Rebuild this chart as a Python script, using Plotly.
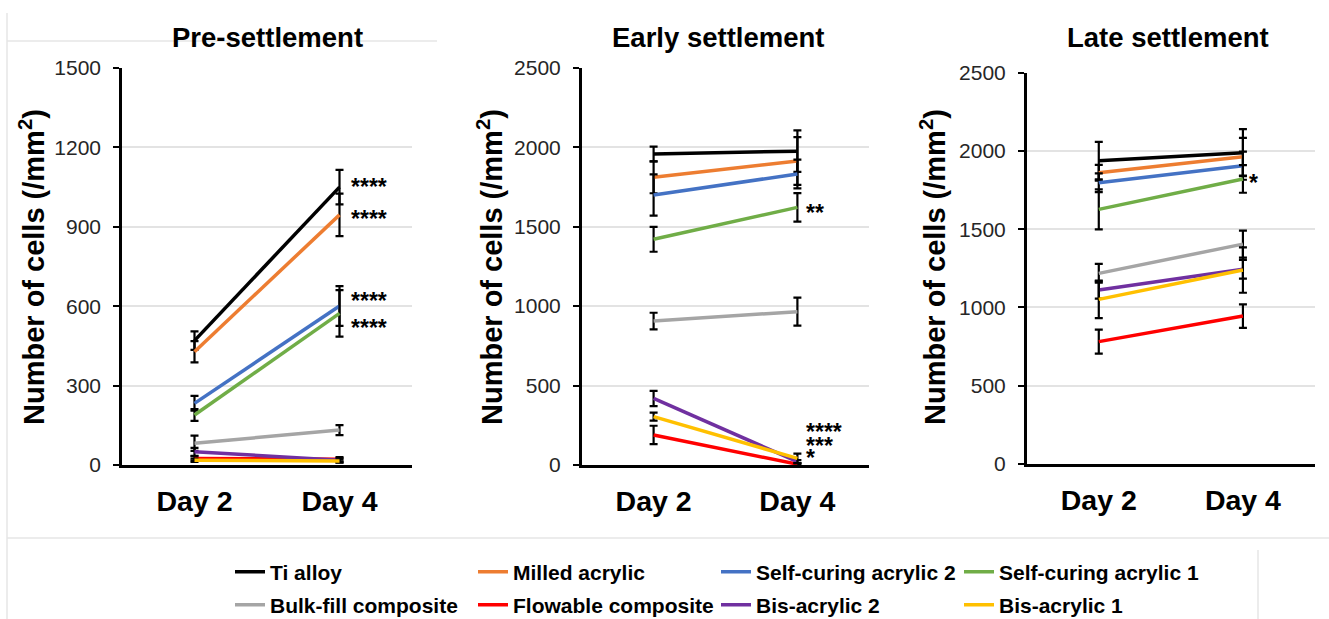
import plotly.graph_objects as go

# ---------------- data ----------------
days = ["Day 2", "Day 4"]
materials = ["Ti alloy", "Milled acrylic", "Self-curing acrylic 2", "Self-curing acrylic 1",
             "Bulk-fill composite", "Flowable composite", "Bis-acrylic 2", "Bis-acrylic 1"]
colors = ["#000000", "#ED7D31", "#4472C4", "#70AD47",
          "#A5A5A5", "#FF0000", "#7030A0", "#FFC000"]

panel_titles = ["Pre-settlement", "Early settlement", "Late settlement"]

pre_mean = [[470, 1050], [428, 945], [233, 601], [189, 573],
            [82, 132], [25, 22], [50, 18], [18, 15]]
pre_err = [[35, 65], [40, 80], [28, 75], [22, 88],
           [29, 19], [8, 8], [15, 8], [6, 6]]

early_mean = [[1957, 1975], [1810, 1913], [1699, 1831], [1420, 1621],
              [906, 965], [189, 5], [419, 21], [304, 42]]
early_err = [[46, 130], [100, 150], [130, 90], [78, 90],
             [52, 88], [58, 5], [48, 10], [25, 30]]

late_mean = [[1938, 1989], [1861, 1963], [1797, 1906], [1627, 1821],
             [1218, 1405], [782, 945], [1112, 1244], [1052, 1239]]
late_err = [[120, 150], [50, 120], [60, 90], [128, 88],
            [60, 86], [77, 75], [55, 60], [120, 145]]

y_max = [1500, 2500, 2500]
y_dtick = [300, 500, 500]

sig_pre_text = ["****", "****", "****", "****"]
sig_pre_y = [1068, 948, 638, 535]
sig_early_text = ["**", "****", "***", "*"]
sig_early_y = [1615, 237, 153, 74]
sig_late_text = ["*"]
sig_late_y = [1825]

# ---------------- layout geometry ----------------
W, H = 1329, 619
x_domains = [[122 / W, 412 / W], [581.7 / W, 869.3 / W], [1026.7 / W, 1315 / W]]
y_domains = [[1 - 465 / H, 1 - 68 / H], [1 - 465 / H, 1 - 67.7 / H], [1 - 464 / H, 1 - 72.7 / H]]
title_x = [267 / W, 718 / W, 1168 / W]
ytitle_x = [32 / W, 490 / W, 933 / W]
sig_xshift = [9, 7, 4]

means = [pre_mean, early_mean, late_mean]
errs = [pre_err, early_err, late_err]
sig_texts = [sig_pre_text, sig_early_text, sig_late_text]
sig_ys = [sig_pre_y, sig_early_y, sig_late_y]

FONT = "Liberation Sans, Arial"

fig = go.Figure()

for p in range(3):
    xa = "x" if p == 0 else f"x{p + 1}"
    ya = "y" if p == 0 else f"y{p + 1}"
    for i, name in enumerate(materials):
        fig.add_trace(go.Scatter(
            x=days, y=means[p][i], mode="lines", name=name,
            line=dict(color=colors[i], width=3.5),
            error_y=dict(type="data", array=errs[p][i], visible=True,
                         color="black", thickness=2.2, width=4),
            xaxis=xa, yaxis=ya,
            showlegend=(p == 0),
            legend="legend" if i < 4 else "legend2",
        ))

axis_common_x = dict(type="category", range=[-0.5, 1.5], automargin=False,
                     showline=True, linecolor="black", linewidth=2.5,
                     ticks="", showgrid=False, zeroline=False,
                     tickfont=dict(family=FONT, size=28.5, color="black", weight="bold"),
                     ticklabelstandoff=9, fixedrange=True)
layout_axes = {}
for p in range(3):
    sx = "xaxis" if p == 0 else f"xaxis{p + 1}"
    sy = "yaxis" if p == 0 else f"yaxis{p + 1}"
    layout_axes[sx] = dict(axis_common_x, domain=x_domains[p],
                           anchor="y" if p == 0 else f"y{p + 1}")
    layout_axes[sy] = dict(domain=y_domains[p], anchor="x" if p == 0 else f"x{p + 1}",
                           range=[0, y_max[p]], dtick=y_dtick[p], tick0=0, automargin=False,
                           showline=True, linecolor="black", linewidth=2.5,
                           ticks="outside", ticklen=6, tickwidth=2, tickcolor="black",
                           showgrid=True, gridcolor="#e3e3e3", gridwidth=2,
                           zeroline=False,
                           tickfont=dict(family=FONT, size=21, color="#262626"),
                           ticklabelstandoff=8, fixedrange=True)

annotations = []
for p in range(3):
    annotations.append(dict(text=panel_titles[p], xref="paper", yref="paper",
                            x=title_x[p], y=1 - 37 / H, showarrow=False,
                            xanchor="center", yanchor="middle",
                            font=dict(family=FONT, size=27.5, color="black", weight="bold")))
    annotations.append(dict(text="Number of cells (/mm<sup>2</sup>)", xref="paper", yref="paper",
                            x=ytitle_x[p], y=1 - 267 / H, showarrow=False, textangle=-90,
                            xanchor="center", yanchor="middle",
                            font=dict(family=FONT, size=29, color="black", weight="bold")))
    xr = "x" if p == 0 else f"x{p + 1}"
    yr = "y" if p == 0 else f"y{p + 1}"
    for t, yv in zip(sig_texts[p], sig_ys[p]):
        annotations.append(dict(text=t, xref=xr, yref=yr, x=days[1], y=yv,
                                showarrow=False, xanchor="left", yanchor="middle",
                                xshift=sig_xshift[p], yshift=-5,
                                font=dict(family=FONT, size=23, color="black", weight="bold")))

frame = dict(type="line", xref="paper", yref="paper", line=dict(color="#e6e6e6", width=1.5), layer="below")
shapes = [
    dict(frame, x0=7 / W, x1=7 / W, y0=1 - 13 / H, y1=0),
    dict(frame, x0=7 / W, x1=437 / W, y0=1 - 41 / H, y1=1 - 41 / H),
    dict(frame, x0=7 / W, x1=1, y0=1 - 538 / H, y1=1 - 538 / H),
    dict(frame, x0=1258 / W, x1=1258 / W, y0=1 - 550 / H, y1=0),
]

legend_common = dict(orientation="h", xanchor="left", yanchor="middle",
                     x=230 / W, bgcolor="rgba(0,0,0,0)",
                     entrywidth=198, entrywidthmode="pixels",
                     font=dict(family=FONT, size=21, color="black", weight="bold"),
                     itemclick=False, itemdoubleclick=False)

fig.update_layout(
    width=W, height=H,
    margin=dict(l=0, r=0, t=0, b=0, autoexpand=False),
    paper_bgcolor="white", plot_bgcolor="white",
    annotations=annotations, shapes=shapes,
    legend=dict(legend_common, y=1 - 572 / H),
    legend2=dict(legend_common, y=1 - 605 / H),
    **layout_axes,
)

fig.write_html("out.html", config={"displayModeBar": False},
               post_script="document.body.style.margin='0';document.body.style.overflow='hidden';")
